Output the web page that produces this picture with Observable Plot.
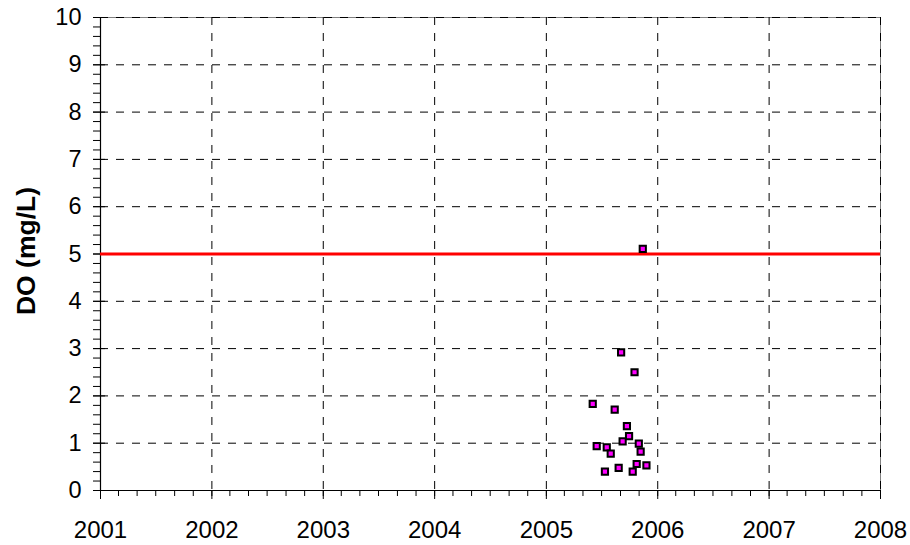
<!DOCTYPE html>
<html>
<head>
<meta charset="utf-8">
<script src="https://cdn.jsdelivr.net/npm/d3@7"></script>
<script src="https://cdn.jsdelivr.net/npm/@observablehq/plot@0.6"></script>
<style>
  html, body { margin: 0; padding: 0; background: #fff; }
</style>
</head>
<body>
<div id="chart"></div>
<script>
// Sample dates and dissolved oxygen values (mg/L)
const sampleDates = [
  "2005-06-02", "2005-06-15", "2005-07-12", "2005-07-18", "2005-07-31",
  "2005-08-13", "2005-08-26", "2005-09-03", "2005-09-08", "2005-09-22",
  "2005-09-29", "2005-10-11", "2005-10-17", "2005-10-24", "2005-10-31",
  "2005-11-06", "2005-11-13", "2005-11-25"
];
const doValues = [
  1.83, 0.94, 0.40, 0.91, 0.78,
  1.71, 0.48, 2.92, 1.04, 1.36,
  1.15, 0.40, 2.50, 0.56, 0.99,
  0.82, 5.11, 0.53
];
const threshold = [5];
const yearTicks = [2001, 2002, 2003, 2004, 2005, 2006, 2007, 2008];
const yTicks = [0, 1, 2, 3, 4, 5, 6, 7, 8, 9, 10];
const yLabel = "DO (mg/L)";

const data = sampleDates.map((d, i) => ({date: new Date(d + "T00:00:00Z"), value: doValues[i]}));
const yearDates = yearTicks.map(y => new Date(Date.UTC(y, 0, 1)));
const minorX = d3.utcMonth.every(2).range(new Date(Date.UTC(2001, 0, 1)), new Date(Date.UTC(2008, 0, 2)));
const minorY = d3.range(0, 10.001, 0.2).map(v => +v.toFixed(1));

const font = "'Liberation Sans', Arial, Helvetica, sans-serif";

const chart = Plot.plot({
  width: 910,
  height: 545,
  marginLeft: 100,
  marginRight: 30,
  marginTop: 17,
  marginBottom: 55,
  style: {fontFamily: font, fontSize: "23px", color: "#000", background: "#fff", overflow: "visible"},
  x: {type: "utc", domain: [yearDates[0], yearDates[yearDates.length - 1]]},
  y: {domain: [0, 10]},
  marks: [
    Plot.frame({stroke: "#808080", strokeWidth: 1}),
    Plot.gridY(yTicks.filter(v => v > 0), {stroke: "#000", strokeOpacity: 1, strokeWidth: 1, strokeDasharray: "8,8"}),
    Plot.gridX(yearDates.slice(1), {stroke: "#000", strokeOpacity: 1, strokeWidth: 1, strokeDasharray: "8,8"}),
    // minor ticks
    Plot.axisY(minorY, {tickSize: 7, text: null, label: null, stroke: "#000"}),
    Plot.axisX(minorX, {tickSize: 6, text: null, label: null, stroke: "#000"}),
    // major ticks
    Plot.axisY(yTicks, {tickSize: 7, text: null, label: null, stroke: "#000"}),
    Plot.axisY(yTicks, {tickSize: -5, text: null, label: null, stroke: "#000"}),
    Plot.axisX(yearDates, {tickSize: 9, text: null, label: null, stroke: "#000"}),
    // labels
    Plot.axisY(yTicks, {tickSize: 0, tickPadding: 19, label: null, fontSize: 23.5, tickFormat: d => String(d)}),
    Plot.axisX(yearDates, {tickSize: 0, tickPadding: 30, label: null, fontSize: 24, tickFormat: d => String(d.getUTCFullYear())}),
    Plot.ruleX([yearDates[0]], {stroke: "#000", strokeWidth: 1.2}),
    Plot.ruleY([0], {stroke: "#000", strokeWidth: 1.2}),
    Plot.ruleY(threshold, {stroke: "#ff0000", strokeWidth: 3}),
    Plot.dot(data, {x: "date", y: "value", symbol: "square", r: 3.5, fill: "#ff00ff", stroke: "#000", strokeWidth: 2}),
    Plot.text([yLabel], {frameAnchor: "left", text: d => d, rotate: -90, textAnchor: "middle", dx: -74, dy: -3, fontSize: 26.5, fontWeight: "bold", fill: "#000"})
  ]
});
document.getElementById("chart").appendChild(chart);
</script>
</body>
</html>
